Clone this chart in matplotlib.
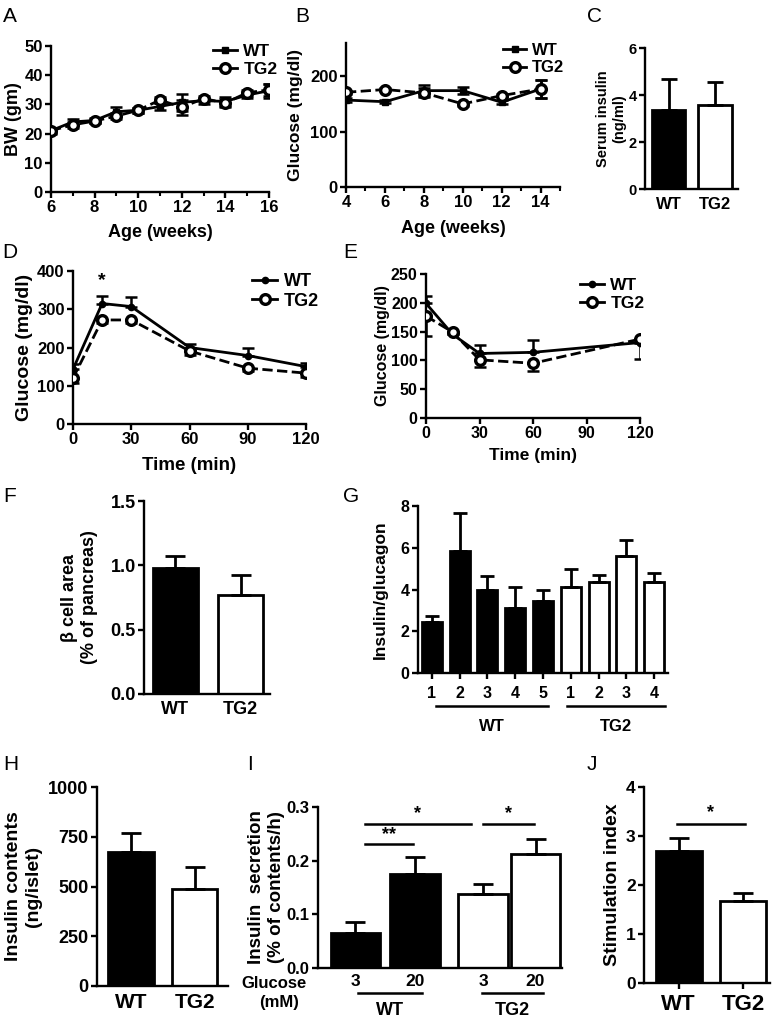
import numpy as np
import matplotlib.pyplot as plt
from matplotlib.lines import Line2D
import matplotlib.transforms as mtransforms

plt.rcParams['font.family'] = ['Liberation Sans', 'DejaVu Sans']
plt.rcParams['font.weight'] = 'bold'
plt.rcParams['axes.labelweight'] = 'bold'

# A: body weight
weeks_a = [6, 7, 8, 9, 10, 11, 12, 13, 14, 15, 16]
bw_wt = [21, 24, 24.5, 27.5, 28, 29.3, 30.7, 31.3, 31, 33.2, 34.7]
bw_wt_err = [1, 1, 0.8, 1.5, 0.8, 1.2, 3, 1, 1.5, 1, 2.4]
bw_tg2 = [21, 23, 24.3, 26, 28, 31.5, 29, 32, 30.5, 34, 35]
bw_tg2_err = [0.8, 1, 0.8, 1, 0.8, 1, 2.6, 1, 1.5, 1, 2]

# B: fasting glucose
weeks_b = [4, 6, 8, 10, 12, 14]
glu_wt = [157, 154, 174, 174, 153, 177]
glu_wt_err = [4, 3, 10, 6, 4, 16]
glu_tg2 = [171, 176, 170, 150, 165, 177]
glu_tg2_err = [3, 3, 8, 4, 3, 17]

# C: serum insulin
groups = ["WT", "TG2"]
serum_ins = [3.38, 3.57]
serum_ins_err = [1.3, 1.0]

# D: GTT
time_d = [0, 15, 30, 60, 90, 120]
gtt_wt = [143, 315, 307, 200, 179, 150]
gtt_wt_err = [15, 20, 24, 10, 21, 10]
gtt_tg2 = [120, 272, 272, 191, 146, 133]
gtt_tg2_err = [12, 8, 8, 10, 8, 10]

# E: ITT
time_e = [0, 15, 30, 60, 120]
itt_wt = [199, 145, 112, 114, 131]
itt_wt_err = [12, 4, 14, 21, 5]
itt_tg2 = [177, 149, 101, 95, 137]
itt_tg2_err = [35, 4, 12, 13, 35]

# F: beta cell area
beta_area = [0.98, 0.77]
beta_area_err = [0.09, 0.155]

# G: insulin/glucagon per animal
ig_labels = ["1", "2", "3", "4", "5", "1", "2", "3", "4"]
ig_ratio = [2.46, 5.85, 4.0, 3.13, 3.45, 4.1, 4.34, 5.6, 4.35]
ig_err = [0.29, 1.8, 0.63, 1.0, 0.53, 0.9, 0.36, 0.78, 0.45]
ig_group = ["WT"] * 5 + ["TG2"] * 4

# H: insulin contents
ins_content = [671, 488]
ins_content_err = [97, 109]

# I: insulin secretion
gsis_glucose = ["3", "20", "3", "20"]
gsis = [0.066, 0.1745, 0.1385, 0.212]
gsis_err = [0.019, 0.0325, 0.0175, 0.029]

# J: stimulation index
stim = [2.69, 1.67]
stim_err = [0.27, 0.16]

W, H = 777, 1018
fig = plt.figure(figsize=(W / 100, H / 100), dpi=100)
boxes = {}


def panel(key, l, t, r, b):
    ax = fig.add_axes([l / W, 1 - b / H, (r - l) / W, (b - t) / H])
    for s in ("top", "right"):
        ax.spines[s].set_visible(False)
    for s in ("left", "bottom"):
        ax.spines[s].set_linewidth(1.7)
    ax.tick_params(direction="out", length=4, width=1.7, pad=2)
    ax.tick_params(which="minor", direction="out", length=3, width=1.5)
    boxes[key] = (l, t, r, b)
    return ax


def ylab(ax, key, text, right_px, size):
    l, t, r, b = boxes[key]
    ax.set_ylabel(text, fontsize=size)
    ax.yaxis.set_label_coords((right_px - l) / (r - l), 0.5)


def xlab(ax, key, text, top_px, size):
    l, t, r, b = boxes[key]
    ax.set_xlabel(text, fontsize=size)
    ax.xaxis.set_label_coords(0.5, -(top_px - b) / (b - t))


def legend(ax, key, x_px, y_px, size, wt_marker, wt_ms):
    l, t, r, b = boxes[key]
    hs = [Line2D([], [], color="k", lw=2, marker=wt_marker, ms=wt_ms),
          Line2D([], [], color="k", lw=2, marker="o", ms=7, mfc="white", mew=2.4)]
    ax.legend(hs, ["WT", "TG2"], loc="upper left",
              bbox_to_anchor=((x_px - l) / (r - l), (b - y_px) / (b - t)),
              frameon=False, fontsize=size, handlelength=1.4, handletextpad=0.35,
              labelspacing=0.15, borderpad=0, borderaxespad=0)


def lines(ax, x, wt, wt_err, tg, tg_err, wt_marker, wt_ms, one_sided):
    z = np.zeros(len(x))
    e_wt = [z, wt_err] if one_sided else wt_err
    e_tg = [tg_err, z] if one_sided else tg_err
    ax.errorbar(x, wt, yerr=e_wt, fmt="none", ecolor="k", elinewidth=1.8, capsize=4, capthick=1.8, zorder=2)
    ax.errorbar(x, tg, yerr=e_tg, fmt="none", ecolor="k", elinewidth=1.8, capsize=4, capthick=1.8, zorder=2)
    ax.plot(x, wt, "-", color="k", lw=2, marker=wt_marker, ms=wt_ms, zorder=3)
    ax.plot(x, tg, "--", color="k", lw=2, marker="o", ms=7, mfc="white", mew=2.4, zorder=4)


def bars(ax, x, vals, errs, width, capsize=6):
    n = len(vals)
    colors = ["black" if g == "WT" else "white" for g in (groups if n == 2 else ig_group)]
    ax.bar(x, vals, width, color=colors, edgecolor="black", linewidth=2, zorder=2)
    ax.errorbar(x, vals, yerr=[np.zeros(n), errs], fmt="none", ecolor="black",
                elinewidth=2, capsize=capsize, capthick=2, zorder=3)


# ---- A
ax = panel("A", 51, 46, 269, 192)
lines(ax, weeks_a, bw_wt, bw_wt_err, bw_tg2, bw_tg2_err, "s", 4.5, False)
ax.set_xlim(6, 16)
ax.set_ylim(0, 50)
ax.set_xticks(range(6, 17, 2))
ax.set_xticks(range(6, 17), minor=True)
ax.set_yticks(range(0, 51, 10))
ax.tick_params(labelsize=12)
ylab(ax, "A", "BW (gm)", 22, 13)
xlab(ax, "A", "Age (weeks)", 224, 13)
legend(ax, "A", 213, 44, 12.5, "s", 4.5)

# ---- B
ax = panel("B", 346, 43, 560, 187)
lines(ax, weeks_b, glu_wt, glu_wt_err, glu_tg2, glu_tg2_err, "s", 4.5, False)
ax.set_xlim(4, 15)
ax.set_ylim(0, 260)
ax.set_xticks(range(4, 15, 2))
ax.set_xticks(range(4, 16), minor=True)
ax.set_yticks([0, 100, 200])
ax.tick_params(labelsize=12)
ylab(ax, "B", "Glucose (mg/dl)", 303, 12.5)
xlab(ax, "B", "Age (weeks)", 220, 13)
legend(ax, "B", 503, 43, 12, "s", 4.5)

# ---- C
ax = panel("C", 645, 48, 738, 189)
bars(ax, [0, 1], serum_ins, serum_ins_err, 0.73)
ax.set_xlim(-0.51, 1.5)
ax.set_ylim(0, 6)
ax.set_yticks([0, 2, 4, 6])
ax.set_xticks([0, 1], groups)
ax.tick_params(axis="x", length=0, pad=6)
ax.tick_params(axis="y", labelsize=10.5)
ax.tick_params(axis="x", labelsize=12)
ylab(ax, "C", "Serum insulin\n(ng/ml)", 626, 10.5)

# ---- D
ax = panel("D", 73, 271, 306, 424)
lines(ax, time_d, gtt_wt, gtt_wt_err, gtt_tg2, gtt_tg2_err, "o", 4.5, True)
ax.set_xlim(0, 120)
ax.set_ylim(0, 400)
ax.set_xticks([0, 30, 60, 90, 120])
ax.set_yticks([0, 100, 200, 300, 400])
ax.tick_params(labelsize=12)
ax.text(time_d[1], 375, "*", ha="center", va="center", fontsize=14)
ylab(ax, "D", "Glucose (mg/dl)", 33, 14)
xlab(ax, "D", "Time (min)", 457, 13.5)
legend(ax, "D", 252, 273, 13, "o", 4.5)

# ---- E
ax = panel("E", 426, 274, 640, 418)
lines(ax, time_e, itt_wt, itt_wt_err, itt_tg2, itt_tg2_err, "o", 4.5, True)
ax.set_xlim(0, 120)
ax.set_ylim(0, 250)
ax.set_xticks([0, 30, 60, 90, 120])
ax.set_yticks([0, 50, 100, 150, 200, 250])
ax.tick_params(labelsize=11.5)
ylab(ax, "E", "Glucose (mg/dl)", 390, 11.5)
xlab(ax, "E", "Time (min)", 448, 12.5)
legend(ax, "E", 580, 278, 12.5, "o", 4.5)

# ---- F
ax = panel("F", 144, 501, 270, 694)
bars(ax, [0, 1], beta_area, beta_area_err, 0.69, 7)
ax.set_xlim(-0.48, 1.45)
ax.set_ylim(0, 1.5)
ax.set_yticks([0, 0.5, 1.0, 1.5])
ax.yaxis.set_major_formatter(plt.FormatStrFormatter("%.1f"))
ax.set_xticks([0, 1], groups)
ax.tick_params(axis="x", length=0, pad=5, labelsize=13)
ax.tick_params(axis="y", labelsize=13)
ylab(ax, "F", "β cell area\n(% of pancreas)", 98, 13)

# ---- G
ax = panel("G", 418, 506, 668, 673)
xg = np.arange(len(ig_ratio))
bars(ax, xg, ig_ratio, ig_err, 0.72, 5)
ax.set_xlim(-0.5, 8.5)
ax.set_ylim(0, 8)
ax.set_yticks([0, 2, 4, 6, 8])
ax.set_xticks(xg, ig_labels)
ax.tick_params(labelsize=11.5)
ax.tick_params(axis="x", pad=5)
ylab(ax, "G", "Insulin/glucagon", 388, 12.5)
tr = mtransforms.blended_transform_factory(ax.transData, ax.transAxes)
for g, (x0, x1) in zip(["WT", "TG2"], [(0.14, 4.17), (4.88, 8.4)]):
    ax.plot([x0, x1], [-0.2, -0.2], color="k", lw=1.8, transform=tr, clip_on=False)
    ax.text((x0 + x1) / 2, -0.275, g, transform=tr, ha="center", va="top", fontsize=12)

# ---- H
ax = panel("H", 97, 787, 228, 986)
bars(ax, [0, 1], ins_content, ins_content_err, 0.71, 7)
ax.set_xlim(-0.53, 1.52)
ax.set_ylim(0, 1000)
ax.set_yticks([0, 250, 500, 750, 1000])
ax.set_xticks([0, 1], groups)
ax.tick_params(axis="x", length=0, pad=5, labelsize=15)
ax.tick_params(axis="y", labelsize=13)
ylab(ax, "H", "Insulin contents\n(ng/islet)", 42, 14)

# ---- I
ax = panel("I", 318, 807, 562, 968)
xi = [0, 1.08, 2.32, 3.27]
ax.bar(xi, gsis, 0.9, color=["black", "black", "white", "white"], edgecolor="black", linewidth=2, zorder=2)
ax.errorbar(xi, gsis, yerr=[np.zeros(4), gsis_err], fmt="none", ecolor="black",
            elinewidth=2, capsize=7, capthick=2, zorder=3)
ax.set_xlim(-0.68, 3.75)
ax.set_ylim(0, 0.3)
ax.set_yticks([0.0, 0.1, 0.2, 0.3])
ax.yaxis.set_major_formatter(plt.FormatStrFormatter("%.1f"))
ax.set_xticks(xi, gsis_glucose)
ax.tick_params(axis="x", length=0, pad=4, labelsize=12.5)
ax.tick_params(axis="y", labelsize=12)
ylab(ax, "I", "Insulin  secretion\n(% of contents/h)", 285, 13.5)
ax.plot([0.165, 2.1], [0.269, 0.269], color="k", lw=1.8, clip_on=False)
ax.text(1.13, 0.272, "*", ha="center", va="bottom", fontsize=13)
ax.plot([0.165, 1.04], [0.2305, 0.2305], color="k", lw=1.8, clip_on=False)
ax.text(0.6, 0.233, "**", ha="center", va="bottom", fontsize=13)
ax.plot([2.31, 3.24], [0.269, 0.269], color="k", lw=1.8, clip_on=False)
ax.text(2.78, 0.272, "*", ha="center", va="bottom", fontsize=13)
tr = mtransforms.blended_transform_factory(ax.transData, ax.transAxes)
for g, (x0, x1) in zip(["WT", "TG2"], [(0.04, 1.2), (2.29, 3.4)]):
    ax.plot([x0, x1], [-0.157, -0.157], color="k", lw=1.8, transform=tr, clip_on=False)
    ax.text((x0 + x1) / 2, -0.21, g, transform=tr, ha="center", va="top", fontsize=13)
fig.text(274 / W, 1 - 984 / H, "Glucose", ha="center", va="center", fontsize=12)
fig.text(279 / W, 1 - 1002 / H, "(mM)", ha="center", va="center", fontsize=12)

# ---- J
ax = panel("J", 644, 787, 770, 983)
bars(ax, [0, 1], stim, stim_err, 0.71, 7)
ax.set_xlim(-0.54, 1.42)
ax.set_ylim(0, 4)
ax.set_yticks([0, 1, 2, 3, 4])
ax.set_xticks([0, 1], groups)
ax.tick_params(axis="x", pad=4, labelsize=16)
ax.tick_params(axis="y", labelsize=12.5)
ylab(ax, "J", "Stimulation index", 621, 14)
ax.plot([-0.02, 1.03], [3.25, 3.25], color="k", lw=1.8, clip_on=False)
ax.text(0.5, 3.3, "*", ha="center", va="bottom", fontsize=13)

# panel letters
for letter, (px, py) in {"A": (3, 7), "B": (295, 7), "C": (587, 7), "D": (2, 243),
                         "E": (343, 243), "F": (3, 487), "G": (343, 487),
                         "H": (3, 755), "I": (247, 755), "J": (587, 755)}.items():
    fig.text(px / W, 1 - py / H, letter, fontsize=15, fontweight="normal", va="top", ha="left")

fig.savefig("out.png", dpi=100)
